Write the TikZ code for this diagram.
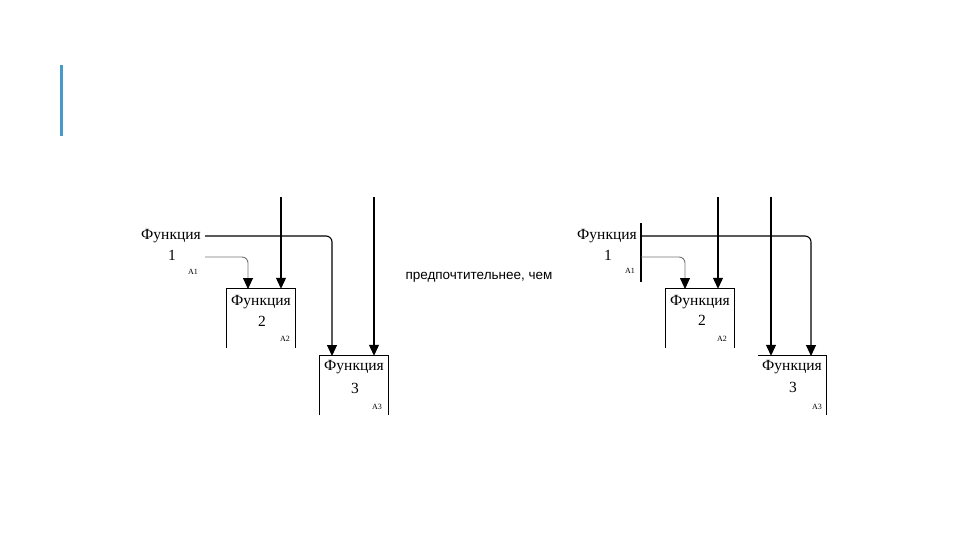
\documentclass[tikz,border=0pt]{standalone}
\usepackage{fontspec}
\setmainfont{Liberation Serif}
\newfontfamily\labsans{Liberation Sans}
\usetikzlibrary{arrows.meta}
\tikzset{
  conn/.style={line width=1.1pt, black, -{Triangle[width=10pt,length=11pt]}},
  gconn/.style={line width=0.9pt, black!55, -{Triangle[width=10pt,length=11pt,fill=black,color=black]}},
  plain/.style={line width=1.1pt, black},
  fname/.style={inner sep=0pt, font=\fontsize{15.5}{17}\selectfont},
  fnum/.style={inner sep=0pt, font=\fontsize{15.5}{17}\selectfont},
  fcode/.style={inner sep=0pt, font=\fontsize{8}{9}\selectfont},
  boxarea/.style={inner sep=0pt, minimum width=68pt, minimum height=59pt},
}
\begin{document}
\begin{tikzpicture}[x=1pt,y=-1pt]
\useasboundingbox (0,0) rectangle (960,540);
\fill[color={rgb,255:red,70;green,155;blue,200}] (59.5,65) rectangle (62.5,136);

% ---------- left diagram ----------
\node[fname] (l1n) at (171,236) {Функция};
\node[fnum] (l1d) at (172,255) {1};
\node[fcode] (l1c) at (193,272) {A1};
\coordinate (l1o) at (205,236);
\coordinate (l1g) at (205,257);
\node[boxarea] (lb2) at (261,318.5) {};
\node[boxarea] (lb3) at (354,385.5) {};
\draw[plain] (lb2.south west) -- (lb2.north west) -- (lb2.north east) -- (lb2.south east);
\draw[plain] (lb3.south west) -- (lb3.north west) -- (lb3.north east) -- (lb3.south east);
\node[fname] at (261,302) {Функция};
\node[fnum] at (262,321) {2};
\node[fcode] at (285,339) {A2};
\node[fname] at (354,367) {Функция};
\node[fnum] at (355,388) {3};
\node[fcode] at (377,407) {A3};
\coordinate (lt2) at (281,197);
\coordinate (lt3) at (374,197);
\draw[conn] (lt2) -- (lt2 |- lb2.north);
\draw[conn] (lt3) -- (lt3 |- lb3.north);
\draw[conn, rounded corners=6pt] (l1o) -| (332,356);
\draw[gconn, rounded corners=6pt] (l1g) -| (248,289);

\node[inner sep=0pt, font=\labsans\fontsize{13.5}{15}\selectfont] (mid) at (479,277) {предпочтительнее, чем};

% ---------- right diagram ----------
\node[fname] (r1n) at (607,236) {Функция};
\node[fnum] (r1d) at (608,255) {1};
\node[fcode] (r1c) at (630,271) {A1};
\coordinate (rbt) at (641,223);
\coordinate (rbb) at (641,282);
\draw[plain] (rbt) -- (rbb);
\coordinate (r1o) at (641,236);
\coordinate (r1g) at (641,257);
\node[boxarea] (rb2) at (700,318.5) {};
\node[boxarea] (rb3) at (792,385.5) {};
\draw[plain] (rb2.south west) -- (rb2.north west) -- (rb2.north east) -- (rb2.south east);
\draw[plain] (rb3.north west) -- (rb3.north east) -- (rb3.south east);
\node[fname] at (700,302) {Функция};
\node[fnum] at (702,320) {2};
\node[fcode] at (722,339) {A2};
\node[fname] at (792,367) {Функция};
\node[fnum] at (793,387) {3};
\node[fcode] at (817,407) {A3};
\coordinate (rt2) at (718,197);
\coordinate (rt3) at (771,197);
\draw[conn] (rt2) -- (rt2 |- rb2.north);
\draw[conn] (rt3) -- (rt3 |- rb3.north);
\draw[conn, rounded corners=6pt] (r1o) -| (811,356);
\draw[gconn, rounded corners=6pt] (r1g) -| (685,289);
\end{tikzpicture}
\end{document}
